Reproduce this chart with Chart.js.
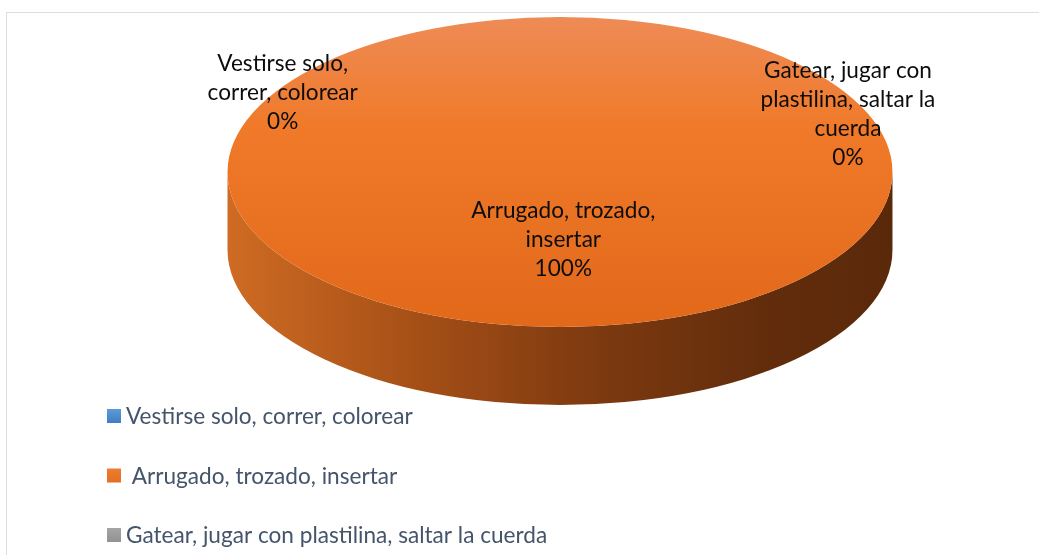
<!DOCTYPE html>
<html>
<head>
<meta charset="utf-8">
<script src="https://cdn.jsdelivr.net/npm/chart.js@4.4.1/dist/chart.umd.min.js"></script>
<style>
  html, body { margin: 0; padding: 0; background: #fff; }
  #wrap { width: 1039px; height: 555px; position: relative; }
</style>
</head>
<body>
<div id="wrap"><canvas id="chart" width="1039" height="555"></canvas></div>
<script>
// categories and values
const categories = ['Vestirse solo, correr, colorear', ' Arrugado, trozado, insertar', 'Gatear, jugar con plastilina, saltar la cuerda'];
const values = [0, 100, 0];
// data label text as it wraps in the picture
const labelLines = [
  ['Vestirse solo,', 'correr, colorear'],
  ['Arrugado, trozado,', 'insertar'],
  ['Gatear, jugar con', 'plastilina, saltar la', 'cuerda']
];
const sliceColors = ['#5b9bd5', '#ed7d31', '#a5a5a5'];

// style bits
const ASPECT = 2.145;      // ellipse width / height
const DEPTH = 78;          // side height of the 3d pie
const FONT = '22.6px Lato, "Open Sans", sans-serif';
// where the data labels sit, as fractions of the ellipse radii
const labelPos = [[-0.834, -0.51], [0.01, 0.44], [0.866, -0.37]];

const total = values.reduce((a, b) => a + b, 0);

function topFill(context) {
  const chart = context.chart;
  const area = chart.chartArea;
  if (!area) return sliceColors[context.dataIndex];
  const g = chart.ctx.createLinearGradient(0, area.top, 0, area.bottom);
  g.addColorStop(0, '#ee8b56');
  g.addColorStop(0.35, '#f07a2a');
  g.addColorStop(1, '#e2681a');
  return g;
}

const pie3d = {
  id: 'pie3d',
  beforeDraw(chart) {
    const ctx = chart.ctx;
    ctx.save();
    ctx.strokeStyle = '#d9dde6';
    ctx.lineWidth = 1;
    ctx.strokeRect(6.5, 12.5, 1200, 700);
    ctx.restore();
  },
  beforeDatasetsDraw(chart) {
    const ctx = chart.ctx;
    const arc = chart.getDatasetMeta(0).data[1];
    const cx = arc.x, cy = arc.y, ry = arc.outerRadius, rx = ry * ASPECT;
    // side of the cylinder
    const g = ctx.createLinearGradient(cx - rx, 0, cx + rx, 0);
    g.addColorStop(0, '#cf6b23');
    g.addColorStop(0.3, '#a34e16');
    g.addColorStop(0.55, '#7e3a10');
    g.addColorStop(0.8, '#632d0c');
    g.addColorStop(1, '#5a290a');
    ctx.save();
    ctx.beginPath();
    ctx.moveTo(cx + rx, cy);
    ctx.lineTo(cx + rx, cy + DEPTH);
    ctx.ellipse(cx, cy + DEPTH, rx, ry, 0, 0, Math.PI, false);
    ctx.lineTo(cx - rx, cy);
    ctx.ellipse(cx, cy, rx, ry, 0, Math.PI, 0, true);
    ctx.closePath();
    ctx.fillStyle = g;
    ctx.fill();
    ctx.restore();
    // squash the round pie into the top ellipse
    ctx.save();
    ctx.translate(cx, cy);
    ctx.scale(ASPECT, 1);
    ctx.translate(-cx, -cy);
  },
  afterDatasetsDraw(chart) {
    chart.ctx.restore();
  },
  afterDraw(chart) {
    const ctx = chart.ctx;
    const arc = chart.getDatasetMeta(0).data[1];
    const cx = arc.x, cy = arc.y, ry = arc.outerRadius, rx = ry * ASPECT;
    ctx.save();
    ctx.font = FONT;
    ctx.textAlign = 'center';
    ctx.textBaseline = 'middle';
    ctx.fillStyle = '#0d0d0d';
    const lh = 29;
    values.forEach((v, i) => {
      const lines = labelLines[i].concat([Math.round(v / total * 100) + '%']);
      const x = cx + labelPos[i][0] * rx;
      const y = cy + labelPos[i][1] * ry;
      const y0 = y - (lines.length - 1) * lh / 2;
      lines.forEach((t, k) => ctx.fillText(t, x, y0 + k * lh));
    });
    // legend, one item per row
    ctx.textAlign = 'left';
    ctx.fillStyle = '#44546a';
    categories.forEach((c, i) => {
      const y = 416 + i * 59.5;
      const bg = ctx.createLinearGradient(0, y - 7, 0, y + 7);
      bg.addColorStop(0, sliceColors[i]);
      bg.addColorStop(1, i === 0 ? '#3f7ec4' : i === 1 ? '#e46f22' : '#919191');
      ctx.fillStyle = bg;
      ctx.fillRect(107, y - 7, 14, 14);
      ctx.fillStyle = '#44546a';
      ctx.fillText(c, 126, y + 1);
    });
    ctx.restore();
  }
};

new Chart(document.getElementById('chart'), {
  type: 'pie',
  data: {
    labels: categories,
    datasets: [{
      data: values,
      backgroundColor: (context) => context.dataIndex === 1 ? topFill(context) : sliceColors[context.dataIndex],
      borderWidth: 0,
      hoverOffset: 0
    }]
  },
  options: {
    responsive: false,
    animation: false,
    events: [],
    layout: { padding: { top: 17, bottom: 228, left: 405, right: 324 } },
    plugins: {
      legend: { display: false },
      tooltip: { enabled: false }
    }
  },
  plugins: [pie3d]
});
</script>
</body>
</html>
